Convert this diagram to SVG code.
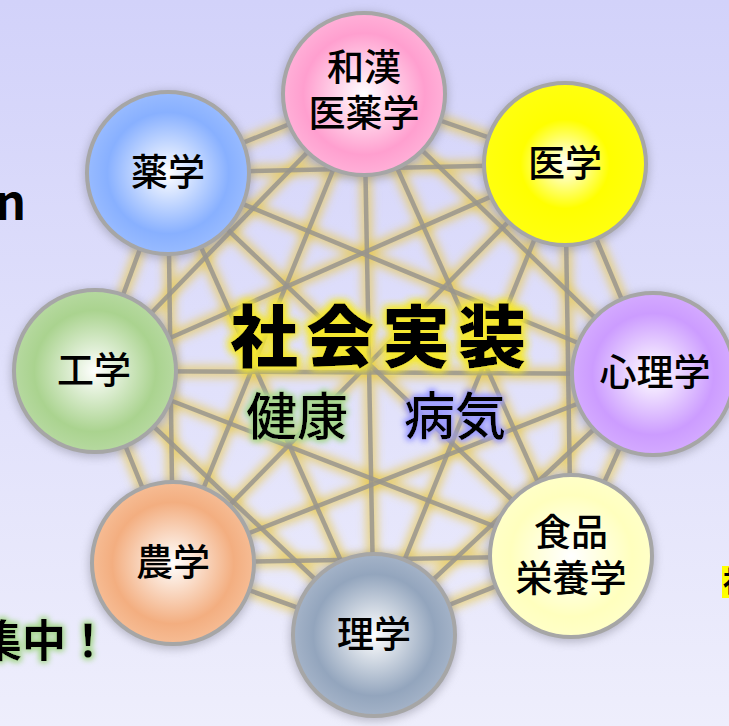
<svg xmlns="http://www.w3.org/2000/svg" width="729" height="726" viewBox="0 0 729 726">
<defs>
  <linearGradient id="bg" x1="0" y1="0" x2="0" y2="1">
    <stop offset="0" stop-color="#d2d2fa"/>
    <stop offset="1" stop-color="#eeeefc"/>
  </linearGradient>
  <radialGradient id="gPink"><stop offset="0" stop-color="#ffffff"/><stop offset="0.75" stop-color="#ff9fcf"/><stop offset="1" stop-color="#ffb0d8"/></radialGradient>
  <radialGradient id="gYellow"><stop offset="0" stop-color="#ffffff"/><stop offset="0.55" stop-color="#ffff00"/><stop offset="1" stop-color="#ffff10"/></radialGradient>
  <radialGradient id="gPurple"><stop offset="0" stop-color="#ffffff"/><stop offset="0.75" stop-color="#cc9cff"/><stop offset="1" stop-color="#d4aaff"/></radialGradient>
  <radialGradient id="gCream"><stop offset="0" stop-color="#ffffff"/><stop offset="0.75" stop-color="#ffffbe"/><stop offset="1" stop-color="#ffffc8"/></radialGradient>
  <radialGradient id="gSlate"><stop offset="0" stop-color="#ffffff"/><stop offset="0.75" stop-color="#93a5bd"/><stop offset="1" stop-color="#a4b3c8"/></radialGradient>
  <radialGradient id="gPeach"><stop offset="0" stop-color="#ffffff"/><stop offset="0.75" stop-color="#f3ae80"/><stop offset="1" stop-color="#f6bc94"/></radialGradient>
  <radialGradient id="gGreen"><stop offset="0" stop-color="#ffffff"/><stop offset="0.75" stop-color="#aad38f"/><stop offset="1" stop-color="#b6d9a0"/></radialGradient>
  <radialGradient id="gBlue"><stop offset="0" stop-color="#ffffff"/><stop offset="0.75" stop-color="#88b0ff"/><stop offset="1" stop-color="#98bbff"/></radialGradient>
  <filter id="lineGlow" x="-20%" y="-20%" width="140%" height="140%"><feGaussianBlur stdDeviation="4.5"/></filter>
  <filter id="shadow" x="-20%" y="-20%" width="140%" height="140%"><feGaussianBlur stdDeviation="5"/></filter>
  <filter id="glowY" x="-20%" y="-40%" width="140%" height="180%">
    <feMorphology in="SourceAlpha" operator="dilate" radius="2" result="d"/>
    <feGaussianBlur in="d" stdDeviation="4" result="b"/>
    <feFlood flood-color="#f5e830"/>
    <feComposite in2="b" operator="in" result="g"/>
    <feMerge><feMergeNode in="g"/><feMergeNode in="g"/><feMergeNode in="SourceGraphic"/></feMerge>
  </filter>
  <filter id="glowG" x="-20%" y="-40%" width="140%" height="180%">
    <feMorphology in="SourceAlpha" operator="dilate" radius="1" result="d"/>
    <feGaussianBlur in="d" stdDeviation="3" result="b"/>
    <feFlood flood-color="#a8d890"/>
    <feComposite in2="b" operator="in" result="g"/>
    <feMerge><feMergeNode in="g"/><feMergeNode in="g"/><feMergeNode in="SourceGraphic"/></feMerge>
  </filter>
  <filter id="glowB" x="-20%" y="-40%" width="140%" height="180%">
    <feMorphology in="SourceAlpha" operator="dilate" radius="1" result="d"/>
    <feGaussianBlur in="d" stdDeviation="3" result="b"/>
    <feFlood flood-color="#9a9aff"/>
    <feComposite in2="b" operator="in" result="g"/>
    <feMerge><feMergeNode in="g"/><feMergeNode in="g"/><feMergeNode in="SourceGraphic"/></feMerge>
  </filter>
</defs>
<style>
  .glow line { stroke: #e8c84a; stroke-width: 13; stroke-opacity: 0.6; }
  .core line { stroke: #99958d; stroke-width: 4.5; stroke-opacity: 0.85; }
  .halo { fill: #8a8a9a; opacity: 0.55; }
  .disc { stroke: #a6a6a6; stroke-width: 4; }
  .lbl { font-family: "Noto Sans CJK JP", "Noto Sans", sans-serif; font-size: 37px; font-weight: 500; fill: #000; text-anchor: middle; }
  .big { font-family: "Noto Sans CJK JP", sans-serif; font-weight: 900; fill: #000; }
  .mid { font-family: "Noto Sans CJK JP", sans-serif; font-weight: 500; fill: #000; font-size: 51px; }
  .side { font-family: "Noto Sans CJK JP", "Noto Sans", sans-serif; font-weight: 700; fill: #000; }
</style>
<rect x="0" y="0" width="729" height="726" fill="url(#bg)"/>

<!-- edge texts -->
<text class="side" x="26" y="220" font-size="48" text-anchor="end" font-family="Noto Sans, sans-serif">n</text>
<g filter="url(#glowG)"><text class="side" x="110" y="657" font-size="44" text-anchor="end">集中！</text></g>
<rect x="722" y="566" width="7" height="32" fill="#ffff00"/>
<text class="side" x="723" y="592" font-size="28" font-weight="500">社</text>

<g id="connectors">
  <g class="glow" filter="url(#lineGlow)">
    <line x1="364" y1="94" x2="565" y2="164"/><line x1="364" y1="94" x2="653" y2="374"/><line x1="364" y1="94" x2="571" y2="556"/><line x1="364" y1="94" x2="374" y2="635"/><line x1="364" y1="94" x2="173" y2="563"/><line x1="364" y1="94" x2="95" y2="371"/><line x1="364" y1="94" x2="168" y2="173"/>
    <line x1="565" y1="164" x2="653" y2="374"/><line x1="565" y1="164" x2="571" y2="556"/><line x1="565" y1="164" x2="374" y2="635"/><line x1="565" y1="164" x2="173" y2="563"/><line x1="565" y1="164" x2="95" y2="371"/><line x1="565" y1="164" x2="168" y2="173"/>
    <line x1="653" y1="374" x2="571" y2="556"/><line x1="653" y1="374" x2="374" y2="635"/><line x1="653" y1="374" x2="173" y2="563"/><line x1="653" y1="374" x2="95" y2="371"/><line x1="653" y1="374" x2="168" y2="173"/>
    <line x1="571" y1="556" x2="374" y2="635"/><line x1="571" y1="556" x2="173" y2="563"/><line x1="571" y1="556" x2="95" y2="371"/><line x1="571" y1="556" x2="168" y2="173"/>
    <line x1="374" y1="635" x2="173" y2="563"/><line x1="374" y1="635" x2="95" y2="371"/><line x1="374" y1="635" x2="168" y2="173"/>
    <line x1="173" y1="563" x2="95" y2="371"/><line x1="173" y1="563" x2="168" y2="173"/>
    <line x1="95" y1="371" x2="168" y2="173"/>
  </g>
  <g class="core">
    <line x1="364" y1="94" x2="565" y2="164"/><line x1="364" y1="94" x2="653" y2="374"/><line x1="364" y1="94" x2="571" y2="556"/><line x1="364" y1="94" x2="374" y2="635"/><line x1="364" y1="94" x2="173" y2="563"/><line x1="364" y1="94" x2="95" y2="371"/><line x1="364" y1="94" x2="168" y2="173"/>
    <line x1="565" y1="164" x2="653" y2="374"/><line x1="565" y1="164" x2="571" y2="556"/><line x1="565" y1="164" x2="374" y2="635"/><line x1="565" y1="164" x2="173" y2="563"/><line x1="565" y1="164" x2="95" y2="371"/><line x1="565" y1="164" x2="168" y2="173"/>
    <line x1="653" y1="374" x2="571" y2="556"/><line x1="653" y1="374" x2="374" y2="635"/><line x1="653" y1="374" x2="173" y2="563"/><line x1="653" y1="374" x2="95" y2="371"/><line x1="653" y1="374" x2="168" y2="173"/>
    <line x1="571" y1="556" x2="374" y2="635"/><line x1="571" y1="556" x2="173" y2="563"/><line x1="571" y1="556" x2="95" y2="371"/><line x1="571" y1="556" x2="168" y2="173"/>
    <line x1="374" y1="635" x2="173" y2="563"/><line x1="374" y1="635" x2="95" y2="371"/><line x1="374" y1="635" x2="168" y2="173"/>
    <line x1="173" y1="563" x2="95" y2="371"/><line x1="173" y1="563" x2="168" y2="173"/>
    <line x1="95" y1="371" x2="168" y2="173"/>
  </g>
</g>

<g id="center">
  <g filter="url(#glowY)"><text class="big" x="230" y="362" font-size="68" letter-spacing="8">社会実装</text></g>
  <g filter="url(#glowG)"><text class="mid" x="246" y="435">健康</text></g>
  <g filter="url(#glowB)"><text class="mid" x="404" y="435">病気</text></g>
</g>

<g id="n-wakan">
  <circle class="halo" cx="364" cy="96" r="84" filter="url(#shadow)"/>
  <circle class="disc" cx="364" cy="94" r="81" fill="url(#gPink)"/>
  <text class="lbl"><tspan x="364" y="81">和漢</tspan><tspan x="364" y="127">医薬学</tspan></text>
</g>
<g id="n-igaku">
  <circle class="halo" cx="565" cy="166" r="84" filter="url(#shadow)"/>
  <circle class="disc" cx="565" cy="164" r="81" fill="url(#gYellow)"/>
  <text class="lbl" x="565" y="177">医学</text>
</g>
<g id="n-shinri">
  <circle class="halo" cx="653" cy="376" r="84" filter="url(#shadow)"/>
  <circle class="disc" cx="653" cy="374" r="81" fill="url(#gPurple)"/>
  <text class="lbl" x="655" y="386">心理学</text>
</g>
<g id="n-shokuhin">
  <circle class="halo" cx="571" cy="558" r="84" filter="url(#shadow)"/>
  <circle class="disc" cx="571" cy="556" r="81" fill="url(#gCream)"/>
  <text class="lbl"><tspan x="571" y="546">食品</tspan><tspan x="571" y="592">栄養学</tspan></text>
</g>
<g id="n-rigaku">
  <circle class="halo" cx="374" cy="637" r="84" filter="url(#shadow)"/>
  <circle class="disc" cx="374" cy="635" r="81" fill="url(#gSlate)"/>
  <text class="lbl" x="374" y="648">理学</text>
</g>
<g id="n-nogaku">
  <circle class="halo" cx="173" cy="565" r="84" filter="url(#shadow)"/>
  <circle class="disc" cx="173" cy="563" r="81" fill="url(#gPeach)"/>
  <text class="lbl" x="173" y="576">農学</text>
</g>
<g id="n-kogaku">
  <circle class="halo" cx="95" cy="373" r="84" filter="url(#shadow)"/>
  <circle class="disc" cx="95" cy="371" r="81" fill="url(#gGreen)"/>
  <text class="lbl" x="94" y="384">工学</text>
</g>
<g id="n-yakugaku">
  <circle class="halo" cx="168" cy="175" r="84" filter="url(#shadow)"/>
  <circle class="disc" cx="168" cy="173" r="81" fill="url(#gBlue)"/>
  <text class="lbl" x="168" y="186">薬学</text>
</g>
</svg>
